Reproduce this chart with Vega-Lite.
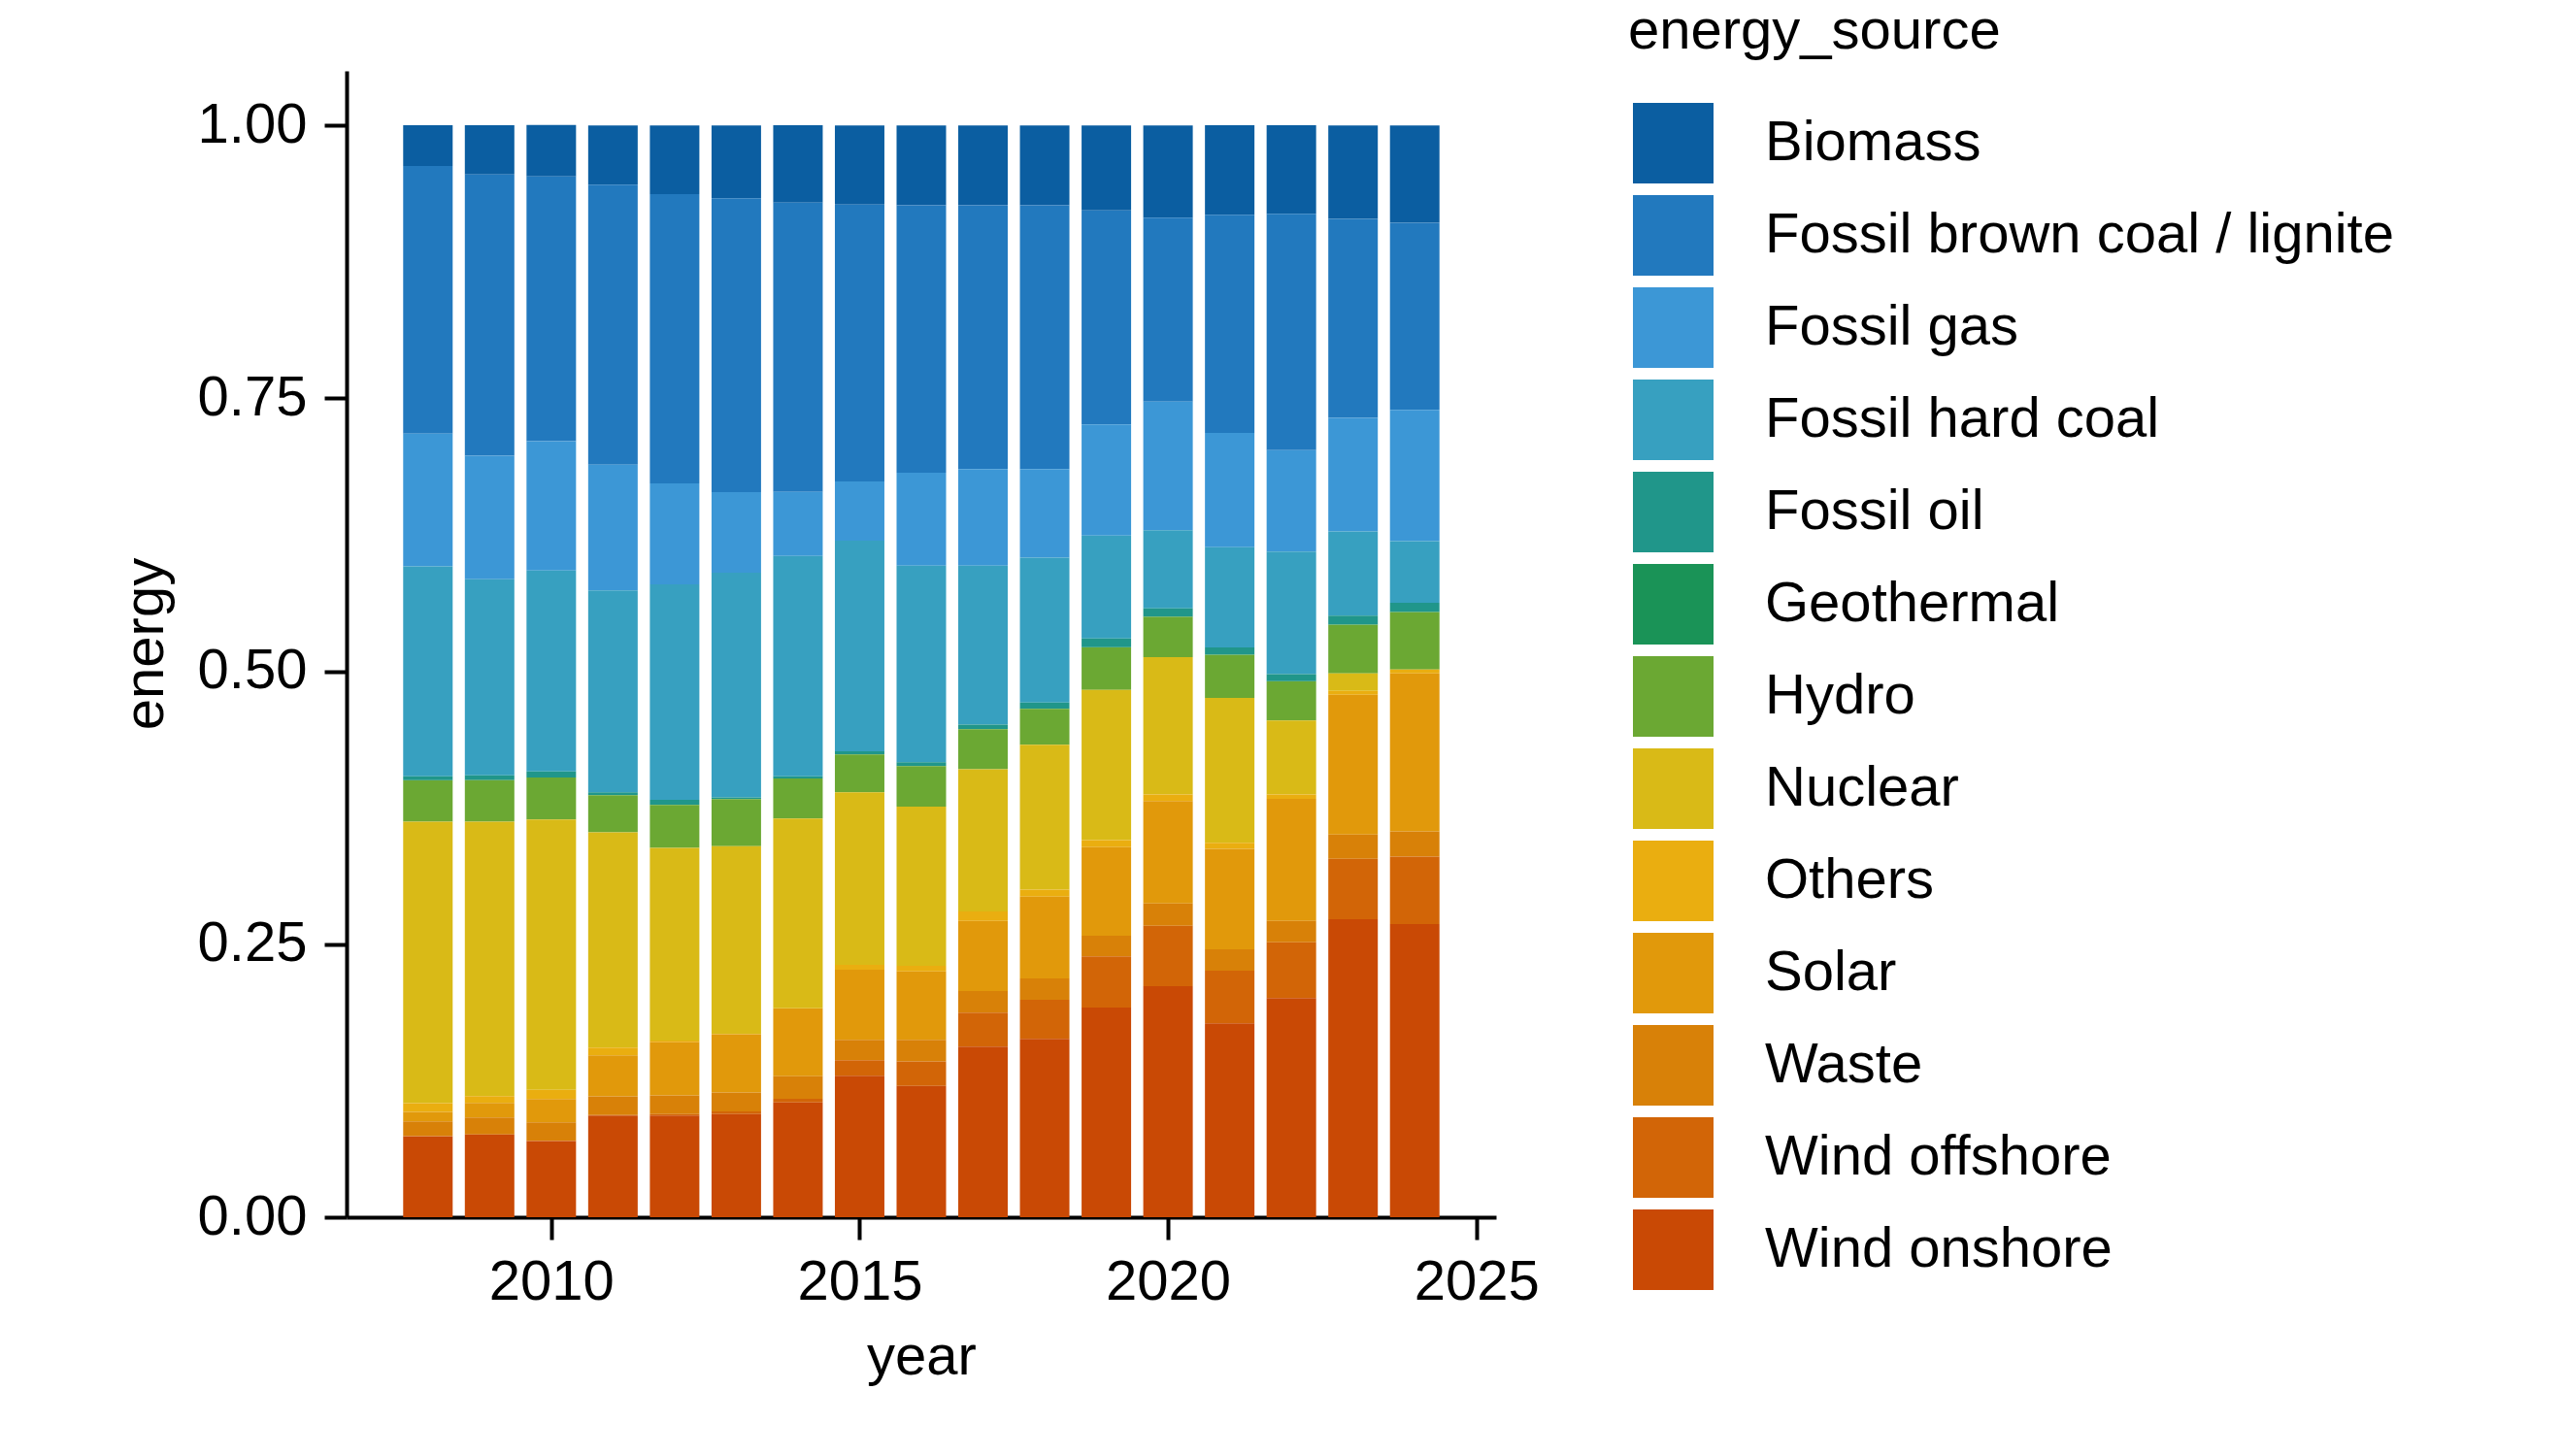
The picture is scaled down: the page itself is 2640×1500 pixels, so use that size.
{
  "$schema": "https://vega.github.io/schema/vega-lite/v6.json",
  "width": 1184,
  "height": 1181,
  "autosize": {"type": "none"},
  "padding": {"left": 357, "top": 73, "right": 1099, "bottom": 246},
  "background": "white",
  "config": {
    "font": "Liberation Sans",
    "view": {"stroke": null},
    "axis": {
      "labelFont": "Liberation Sans",
      "titleFont": "Liberation Sans",
      "labelFontSize": 58,
      "titleFontSize": 58,
      "titleFontWeight": "normal",
      "labelColor": "black",
      "titleColor": "black",
      "domainColor": "black",
      "tickColor": "black",
      "domainWidth": 4,
      "tickWidth": 4,
      "tickSize": 23,
      "grid": false
    },
    "legend": {
      "labelFont": "Liberation Sans",
      "titleFont": "Liberation Sans",
      "labelFontSize": 58,
      "titleFontSize": 58,
      "titleFontWeight": "normal",
      "labelColor": "black",
      "titleColor": "black"
    }
  },
  "datasets": {
    "energy": [
      {"year":2008,"energy_source":"Biomass","energy":0.0373},{"year":2008,"energy_source":"Fossil brown coal / lignite","energy":0.2453},{"year":2008,"energy_source":"Fossil gas","energy":0.1214},{"year":2008,"energy_source":"Fossil hard coal","energy":0.1924},{"year":2008,"energy_source":"Fossil oil","energy":0.0036},{"year":2008,"energy_source":"Geothermal","energy":0.0001},{"year":2008,"energy_source":"Hydro","energy":0.0378},{"year":2008,"energy_source":"Nuclear","energy":0.2578},{"year":2008,"energy_source":"Others","energy":0.0080},{"year":2008,"energy_source":"Solar","energy":0.0088},{"year":2008,"energy_source":"Waste","energy":0.0135},{"year":2008,"energy_source":"Wind offshore","energy":0.0001},{"year":2008,"energy_source":"Wind onshore","energy":0.0741},
      {"year":2009,"energy_source":"Biomass","energy":0.0453},{"year":2009,"energy_source":"Fossil brown coal / lignite","energy":0.2576},{"year":2009,"energy_source":"Fossil gas","energy":0.1130},{"year":2009,"energy_source":"Fossil hard coal","energy":0.1797},{"year":2009,"energy_source":"Fossil oil","energy":0.0044},{"year":2009,"energy_source":"Geothermal","energy":0.0001},{"year":2009,"energy_source":"Hydro","energy":0.0378},{"year":2009,"energy_source":"Nuclear","energy":0.2514},{"year":2009,"energy_source":"Others","energy":0.0064},{"year":2009,"energy_source":"Solar","energy":0.0132},{"year":2009,"energy_source":"Waste","energy":0.0155},{"year":2009,"energy_source":"Wind offshore","energy":0.0002},{"year":2009,"energy_source":"Wind onshore","energy":0.0757},
      {"year":2010,"energy_source":"Biomass","energy":0.0471},{"year":2010,"energy_source":"Fossil brown coal / lignite","energy":0.2424},{"year":2010,"energy_source":"Fossil gas","energy":0.1185},{"year":2010,"energy_source":"Fossil hard coal","energy":0.1840},{"year":2010,"energy_source":"Fossil oil","energy":0.0056},{"year":2010,"energy_source":"Geothermal","energy":0.0001},{"year":2010,"energy_source":"Hydro","energy":0.0383},{"year":2010,"energy_source":"Nuclear","energy":0.2478},{"year":2010,"energy_source":"Others","energy":0.0083},{"year":2010,"energy_source":"Solar","energy":0.0215},{"year":2010,"energy_source":"Waste","energy":0.0168},{"year":2010,"energy_source":"Wind offshore","energy":0.0003},{"year":2010,"energy_source":"Wind onshore","energy":0.0697},
      {"year":2011,"energy_source":"Biomass","energy":0.0543},{"year":2011,"energy_source":"Fossil brown coal / lignite","energy":0.2566},{"year":2011,"energy_source":"Fossil gas","energy":0.1151},{"year":2011,"energy_source":"Fossil hard coal","energy":0.1848},{"year":2011,"energy_source":"Fossil oil","energy":0.0027},{"year":2011,"energy_source":"Geothermal","energy":0.0001},{"year":2011,"energy_source":"Hydro","energy":0.0339},{"year":2011,"energy_source":"Nuclear","energy":0.1972},{"year":2011,"energy_source":"Others","energy":0.0072},{"year":2011,"energy_source":"Solar","energy":0.0374},{"year":2011,"energy_source":"Waste","energy":0.0172},{"year":2011,"energy_source":"Wind offshore","energy":0.0004},{"year":2011,"energy_source":"Wind onshore","energy":0.0932},
      {"year":2012,"energy_source":"Biomass","energy":0.0630},{"year":2012,"energy_source":"Fossil brown coal / lignite","energy":0.2649},{"year":2012,"energy_source":"Fossil gas","energy":0.0926},{"year":2012,"energy_source":"Fossil hard coal","energy":0.1974},{"year":2012,"energy_source":"Fossil oil","energy":0.0044},{"year":2012,"energy_source":"Geothermal","energy":0.0001},{"year":2012,"energy_source":"Hydro","energy":0.0395},{"year":2012,"energy_source":"Nuclear","energy":0.1764},{"year":2012,"energy_source":"Others","energy":0.0016},{"year":2012,"energy_source":"Solar","energy":0.0486},{"year":2012,"energy_source":"Waste","energy":0.0172},{"year":2012,"energy_source":"Wind offshore","energy":0.0012},{"year":2012,"energy_source":"Wind onshore","energy":0.0932},
      {"year":2013,"energy_source":"Biomass","energy":0.0667},{"year":2013,"energy_source":"Fossil brown coal / lignite","energy":0.2692},{"year":2013,"energy_source":"Fossil gas","energy":0.0739},{"year":2013,"energy_source":"Fossil hard coal","energy":0.2057},{"year":2013,"energy_source":"Fossil oil","energy":0.0016},{"year":2013,"energy_source":"Geothermal","energy":0.0001},{"year":2013,"energy_source":"Hydro","energy":0.0431},{"year":2013,"energy_source":"Nuclear","energy":0.1717},{"year":2013,"energy_source":"Others","energy":0.0004},{"year":2013,"energy_source":"Solar","energy":0.0534},{"year":2013,"energy_source":"Waste","energy":0.0175},{"year":2013,"energy_source":"Wind offshore","energy":0.0024},{"year":2013,"energy_source":"Wind onshore","energy":0.0944},
      {"year":2014,"energy_source":"Biomass","energy":0.0710},{"year":2014,"energy_source":"Fossil brown coal / lignite","energy":0.2649},{"year":2014,"energy_source":"Fossil gas","energy":0.0587},{"year":2014,"energy_source":"Fossil hard coal","energy":0.2018},{"year":2014,"energy_source":"Fossil oil","energy":0.0020},{"year":2014,"energy_source":"Geothermal","energy":0.0001},{"year":2014,"energy_source":"Hydro","energy":0.0367},{"year":2014,"energy_source":"Nuclear","energy":0.1737},{"year":2014,"energy_source":"Others","energy":0.0002},{"year":2014,"energy_source":"Solar","energy":0.0621},{"year":2014,"energy_source":"Waste","energy":0.0207},{"year":2014,"energy_source":"Wind offshore","energy":0.0032},{"year":2014,"energy_source":"Wind onshore","energy":0.1052},
      {"year":2015,"energy_source":"Biomass","energy":0.0725},{"year":2015,"energy_source":"Fossil brown coal / lignite","energy":0.2536},{"year":2015,"energy_source":"Fossil gas","energy":0.0543},{"year":2015,"energy_source":"Fossil hard coal","energy":0.1929},{"year":2015,"energy_source":"Fossil oil","energy":0.0028},{"year":2015,"energy_source":"Geothermal","energy":0.0001},{"year":2015,"energy_source":"Hydro","energy":0.0347},{"year":2015,"energy_source":"Nuclear","energy":0.1581},{"year":2015,"energy_source":"Others","energy":0.0044},{"year":2015,"energy_source":"Solar","energy":0.0642},{"year":2015,"energy_source":"Waste","energy":0.0187},{"year":2015,"energy_source":"Wind offshore","energy":0.0143},{"year":2015,"energy_source":"Wind onshore","energy":0.1295},
      {"year":2016,"energy_source":"Biomass","energy":0.0732},{"year":2016,"energy_source":"Fossil brown coal / lignite","energy":0.2449},{"year":2016,"energy_source":"Fossil gas","energy":0.0852},{"year":2016,"energy_source":"Fossil hard coal","energy":0.1800},{"year":2016,"energy_source":"Fossil oil","energy":0.0036},{"year":2016,"energy_source":"Geothermal","energy":0.0001},{"year":2016,"energy_source":"Hydro","energy":0.0370},{"year":2016,"energy_source":"Nuclear","energy":0.1458},{"year":2016,"energy_source":"Others","energy":0.0052},{"year":2016,"energy_source":"Solar","energy":0.0626},{"year":2016,"energy_source":"Waste","energy":0.0199},{"year":2016,"energy_source":"Wind offshore","energy":0.0223},{"year":2016,"energy_source":"Wind onshore","energy":0.1203},
      {"year":2017,"energy_source":"Biomass","energy":0.0732},{"year":2017,"energy_source":"Fossil brown coal / lignite","energy":0.2417},{"year":2017,"energy_source":"Fossil gas","energy":0.0884},{"year":2017,"energy_source":"Fossil hard coal","energy":0.1457},{"year":2017,"energy_source":"Fossil oil","energy":0.0040},{"year":2017,"energy_source":"Geothermal","energy":0.0001},{"year":2017,"energy_source":"Hydro","energy":0.0366},{"year":2017,"energy_source":"Nuclear","energy":0.1303},{"year":2017,"energy_source":"Others","energy":0.0088},{"year":2017,"energy_source":"Solar","energy":0.0641},{"year":2017,"energy_source":"Waste","energy":0.0199},{"year":2017,"energy_source":"Wind offshore","energy":0.0311},{"year":2017,"energy_source":"Wind onshore","energy":0.1562},
      {"year":2018,"energy_source":"Biomass","energy":0.0732},{"year":2018,"energy_source":"Fossil brown coal / lignite","energy":0.2417},{"year":2018,"energy_source":"Fossil gas","energy":0.0811},{"year":2018,"energy_source":"Fossil hard coal","energy":0.1327},{"year":2018,"energy_source":"Fossil oil","energy":0.0056},{"year":2018,"energy_source":"Geothermal","energy":0.0001},{"year":2018,"energy_source":"Hydro","energy":0.0330},{"year":2018,"energy_source":"Nuclear","energy":0.1327},{"year":2018,"energy_source":"Others","energy":0.0064},{"year":2018,"energy_source":"Solar","energy":0.0749},{"year":2018,"energy_source":"Waste","energy":0.0195},{"year":2018,"energy_source":"Wind offshore","energy":0.0359},{"year":2018,"energy_source":"Wind onshore","energy":0.1633},
      {"year":2019,"energy_source":"Biomass","energy":0.0779},{"year":2019,"energy_source":"Fossil brown coal / lignite","energy":0.1960},{"year":2019,"energy_source":"Fossil gas","energy":0.1018},{"year":2019,"energy_source":"Fossil hard coal","energy":0.0943},{"year":2019,"energy_source":"Fossil oil","energy":0.0080},{"year":2019,"energy_source":"Geothermal","energy":0.0002},{"year":2019,"energy_source":"Hydro","energy":0.0390},{"year":2019,"energy_source":"Nuclear","energy":0.1375},{"year":2019,"energy_source":"Others","energy":0.0064},{"year":2019,"energy_source":"Solar","energy":0.0812},{"year":2019,"energy_source":"Waste","energy":0.0188},{"year":2019,"energy_source":"Wind offshore","energy":0.0470},{"year":2019,"energy_source":"Wind onshore","energy":0.1920},
      {"year":2020,"energy_source":"Biomass","energy":0.0845},{"year":2020,"energy_source":"Fossil brown coal / lignite","energy":0.1684},{"year":2020,"energy_source":"Fossil gas","energy":0.1178},{"year":2020,"energy_source":"Fossil hard coal","energy":0.0717},{"year":2020,"energy_source":"Fossil oil","energy":0.0073},{"year":2020,"energy_source":"Geothermal","energy":0.0003},{"year":2020,"energy_source":"Hydro","energy":0.0369},{"year":2020,"energy_source":"Nuclear","energy":0.1258},{"year":2020,"energy_source":"Others","energy":0.0060},{"year":2020,"energy_source":"Solar","energy":0.0940},{"year":2020,"energy_source":"Waste","energy":0.0204},{"year":2020,"energy_source":"Wind offshore","energy":0.0553},{"year":2020,"energy_source":"Wind onshore","energy":0.2116},
      {"year":2021,"energy_source":"Biomass","energy":0.0822},{"year":2021,"energy_source":"Fossil brown coal / lignite","energy":0.1997},{"year":2021,"energy_source":"Fossil gas","energy":0.1047},{"year":2021,"energy_source":"Fossil hard coal","energy":0.0919},{"year":2021,"energy_source":"Fossil oil","energy":0.0064},{"year":2021,"energy_source":"Geothermal","energy":0.0003},{"year":2021,"energy_source":"Hydro","energy":0.0394},{"year":2021,"energy_source":"Nuclear","energy":0.1327},{"year":2021,"energy_source":"Others","energy":0.0055},{"year":2021,"energy_source":"Solar","energy":0.0921},{"year":2021,"energy_source":"Waste","energy":0.0195},{"year":2021,"energy_source":"Wind offshore","energy":0.0482},{"year":2021,"energy_source":"Wind onshore","energy":0.1777},
      {"year":2022,"energy_source":"Biomass","energy":0.0812},{"year":2022,"energy_source":"Fossil brown coal / lignite","energy":0.2166},{"year":2022,"energy_source":"Fossil gas","energy":0.0928},{"year":2022,"energy_source":"Fossil hard coal","energy":0.1122},{"year":2022,"energy_source":"Fossil oil","energy":0.0064},{"year":2022,"energy_source":"Geothermal","energy":0.0003},{"year":2022,"energy_source":"Hydro","energy":0.0358},{"year":2022,"energy_source":"Nuclear","energy":0.0677},{"year":2022,"energy_source":"Others","energy":0.0040},{"year":2022,"energy_source":"Solar","energy":0.1120},{"year":2022,"energy_source":"Waste","energy":0.0195},{"year":2022,"energy_source":"Wind offshore","energy":0.0510},{"year":2022,"energy_source":"Wind onshore","energy":0.2008},
      {"year":2023,"energy_source":"Biomass","energy":0.0856},{"year":2023,"energy_source":"Fossil brown coal / lignite","energy":0.1822},{"year":2023,"energy_source":"Fossil gas","energy":0.1040},{"year":2023,"energy_source":"Fossil hard coal","energy":0.0773},{"year":2023,"energy_source":"Fossil oil","energy":0.0080},{"year":2023,"energy_source":"Geothermal","energy":0.0003},{"year":2023,"energy_source":"Hydro","energy":0.0446},{"year":2023,"energy_source":"Nuclear","energy":0.0159},{"year":2023,"energy_source":"Others","energy":0.0036},{"year":2023,"energy_source":"Solar","energy":0.1279},{"year":2023,"energy_source":"Waste","energy":0.0223},{"year":2023,"energy_source":"Wind offshore","energy":0.0554},{"year":2023,"energy_source":"Wind onshore","energy":0.2729},
      {"year":2024,"energy_source":"Biomass","energy":0.0891},{"year":2024,"energy_source":"Fossil brown coal / lignite","energy":0.1714},{"year":2024,"energy_source":"Fossil gas","energy":0.1203},{"year":2024,"energy_source":"Fossil hard coal","energy":0.0564},{"year":2024,"energy_source":"Fossil oil","energy":0.0083},{"year":2024,"energy_source":"Geothermal","energy":0.0003},{"year":2024,"energy_source":"Hydro","energy":0.0526},{"year":2024,"energy_source":"Nuclear","energy":0.0},{"year":2024,"energy_source":"Others","energy":0.0036},{"year":2024,"energy_source":"Solar","energy":0.1446},{"year":2024,"energy_source":"Waste","energy":0.0231},{"year":2024,"energy_source":"Wind offshore","energy":0.0618},{"year":2024,"energy_source":"Wind onshore","energy":0.2685}
    ]
  },
  "data": {"name": "energy"},
  "mark": {"type": "bar", "width": 51, "strokeWidth": 0},
  "encoding": {
    "x": {
      "field": "year",
      "type": "quantitative",
      "scale": {"domain": [2006.76, 2025.24], "nice": false, "zero": false},
      "axis": {
        "title": "year",
        "values": [2010, 2015, 2020, 2025],
        "format": "d",
        "labelPadding": 15,
        "titleY": 161,
        "titleBaseline": "alphabetic"
      }
    },
    "y": {
      "field": "energy",
      "type": "quantitative",
      "stack": "zero",
      "scale": {"domain": [0, 1.05], "nice": false},
      "axis": {
        "title": "energy",
        "values": [0, 0.25, 0.5, 0.75, 1],
        "format": ".2f",
        "labelPadding": 18,
        "titleAngle": -90,
        "titleX": -190,
        "titleY": 590,
        "titleAlign": "center",
        "titleBaseline": "alphabetic"
      }
    },
    "color": {
      "field": "energy_source",
      "type": "nominal",
      "title": "energy_source",
      "scale": {
        "domain": ["Biomass", "Fossil brown coal / lignite", "Fossil gas", "Fossil hard coal", "Fossil oil", "Geothermal", "Hydro", "Nuclear", "Others", "Solar", "Waste", "Wind offshore", "Wind onshore"],
        "range": ["#0b5ea1", "#2279be", "#3c97d6", "#37a0c0", "#20968a", "#1a9357", "#6ba833", "#d9ba17", "#eaae10", "#e1990b", "#d88108", "#d26507", "#c94905"]
      },
      "legend": {
        "orient": "none",
        "legendX": 1320,
        "legendY": -69,
        "padding": 0,
        "symbolType": "square",
        "symbolSize": 6889,
        "symbolStrokeWidth": 0,
        "symbolOpacity": 1,
        "symbolOffset": 5,
        "rowPadding": 12,
        "titlePadding": 44,
        "labelOffset": 53,
        "labelLimit": 1000,
        "titleLimit": 1000
      }
    },
    "order": {"field": "energy_source", "sort": "descending"}
  }
}
